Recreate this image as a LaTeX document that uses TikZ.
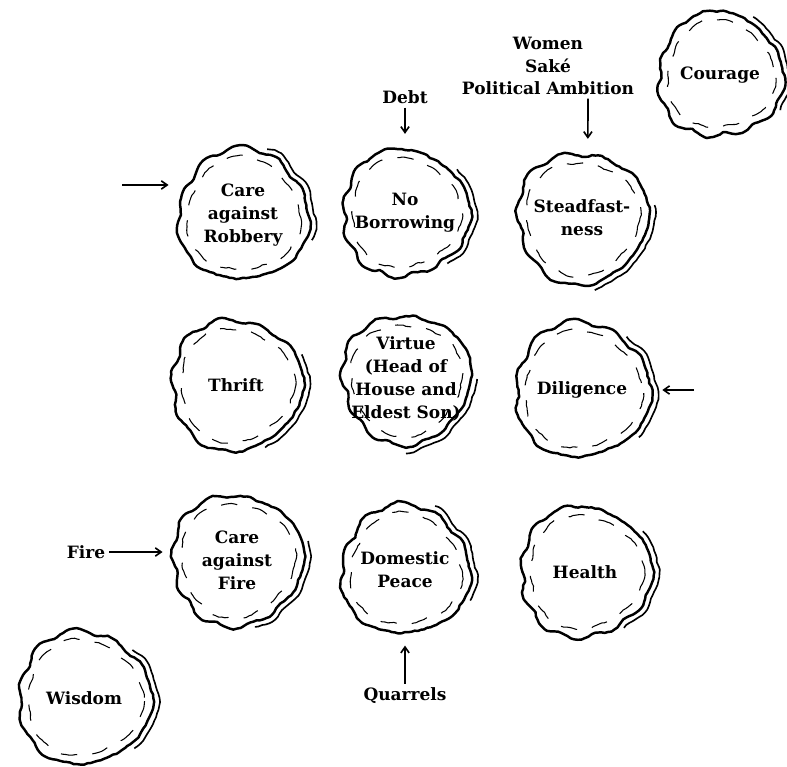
\documentclass[tikz,border=0pt]{standalone}
\usepackage{fontspec}
\setmainfont{DejaVu Serif}
\usetikzlibrary{arrows.meta}

\tikzset{
  virtue/.style={circle, minimum size=4.1cm, inner sep=0pt, align=center,
    font=\bfseries\fontsize{14.5}{19.5}\selectfont},
  lbl/.style={align=center, font=\bfseries\fontsize{14.5}{19}\selectfont},
  rim/.style={line width=2.1pt, line join=round},
  inner/.style={line width=0.9pt, line join=round, dash pattern=on 14pt off 13pt},
  feed/.style={-{Straight Barb[length=5pt,width=7pt]}, line width=1.4pt},
}

\begin{document}
\begin{tikzpicture}[x=0.03cm,y=-0.03cm]
	\pgfmathsetseed{11}
	\useasboundingbox (0,0) rectangle (787,767);

	%virtues
	\node[virtue] (robbery) at (243,215) {Care\\against\\Robbery};
	\node[virtue] (borrow) at (405,213) {No\\Borrowing};
	\node[virtue] (steady) at (582,218) {Steadfast-\\ness};
	\node[virtue] (courage) at (720,75) {Courage};
	\node[virtue] (thrift) at (236,385) {Thrift};
	\node[virtue] (head) at (406,379) {Virtue\\(Head of\\House and\\Eldest Son)};
	\node[virtue] (diligence) at (582,390) {Diligence};
	\node[virtue] (firecare) at (237,560) {Care\\against\\Fire};
	\node[virtue] (peace) at (405,570) {Domestic\\Peace};
	\node[virtue] (health) at (585,572) {Health};
	\node[virtue] (wisdom) at (84,698) {Wisdom};

	%cloud rims
	\foreach \n/\r/\k/\p in {robbery/66/5/10, borrow/64/6/40, steady/66/5/70,
	  courage/63/6/20, thrift/66/5/55, head/65/6/80, diligence/68/5/30,
	  firecare/66/6/65, peace/65/5/15, health/66/6/45, wisdom/67/5/35}{
	  \begin{scope}[shift={(\n.center)}]
	    \draw[rim] plot[smooth cycle, domain=0:357, samples=120]
	      (\x:{\r-3+3*abs(sin(\k*\x+\p))+2.5*sin(3*\x+2*\p)+1.2*sin(11*\x+3*\p)+1.1*rnd});
	    \draw[rim, line width=1.4pt] plot[smooth, domain=\p-80:\p+10, samples=31]
	      (\x:{\r+3+3*abs(sin(\k*\x+\p))+2.5*sin(3*\x+2*\p)+1.2*sin(11*\x+3*\p)+0.8*rnd});
	    \draw[inner] plot[smooth cycle, domain=0:357, samples=120]
	      (\x:{\r-11+2*abs(sin(\k*\x+2*\p))+2.5*sin(3*\x+2*\p)+0.9*rnd});
	  \end{scope}
	}

	%causes
	\node[lbl] (debt) at (405,97) {Debt};
	\node[lbl] (women) at (548,66) {Women\\Sak\'e\\Political Ambition};
	\node[lbl] (fire) at (86,552) {Fire};
	\node[lbl] (quarrels) at (405,696) {Quarrels};
	\coordinate (robin) at (122,185);
	\coordinate (dilin) at (694,390);

	%arrows
	\draw[feed] (debt.south) -- ([yshift=9pt]borrow.north);
	\draw[feed] (women.south -| steady.north) ++(6,0) -- ([xshift=5pt,yshift=9pt]steady.north);
	\draw[feed] (robin) -- ([xshift=-5pt]robin -| robbery.west);
	\draw[feed] (dilin) -- ([xshift=10pt]dilin -| diligence.east);
	\draw[feed] (fire.east) -- ([xshift=-5pt]fire -| firecare.west);
	\draw[feed] (quarrels.north) -- ([yshift=-6pt]peace.south);
\end{tikzpicture}
\end{document}
